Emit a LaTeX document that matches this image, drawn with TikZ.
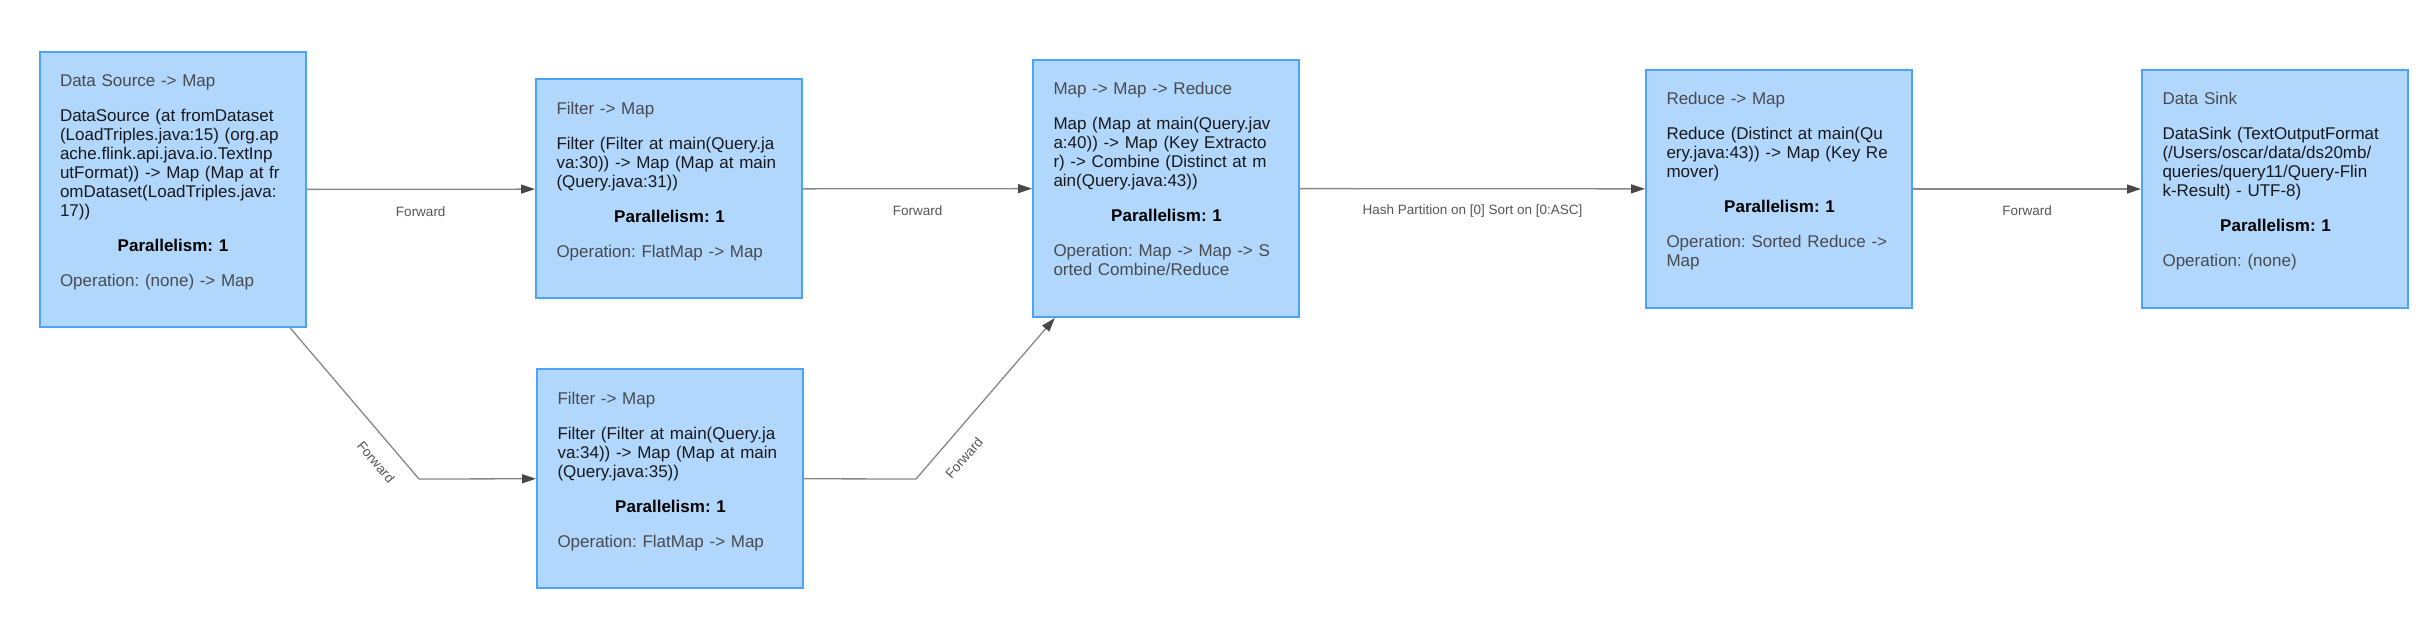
\documentclass[tikz,border=0pt]{standalone}
\usepackage{fontspec}
\setmainfont{Liberation Sans}
\frenchspacing
\usetikzlibrary{arrows.meta}
\definecolor{boxfill}{RGB}{177,216,252}
\definecolor{boxdraw}{RGB}{77,163,250}
\definecolor{titlec}{RGB}{72,74,80}
\definecolor{bodyc}{RGB}{24,24,28}
\definecolor{edgec}{RGB}{135,135,135}
\definecolor{tipc}{RGB}{72,72,72}
\definecolor{elabc}{RGB}{85,85,85}
\newcommand\bl[1]{\mbox{\strut#1}\par}
\tikzset{
  opbox/.style={draw=boxdraw, fill=boxfill, line width=2pt, outer sep=1pt,
    minimum width=266pt, inner sep=0pt},
  optext/.style={anchor=north west, inner sep=0pt, outer sep=0pt, text width=226pt,
    font=\fontsize{17}{19}\selectfont\frenchspacing, text=bodyc, xshift=21.5pt, yshift=-22.7pt},
  flow/.style={draw=edgec, line width=1.3pt,
    -{Triangle[length=14pt,width=9pt,color=tipc]}},
  elabel/.style={font=\fontsize{13.5}{16}\selectfont\frenchspacing, text=elabc, inner sep=0pt}
}
\begin{document}
\begin{tikzpicture}[x=1pt,y=-1pt]
\useasboundingbox (0,0) rectangle (2431,636);

% boxes
\node[opbox, minimum height=275pt] (b1) at (172.5,189.5) {};
\node[opbox, minimum height=219pt] (b2) at (669,189) {};
\node[opbox, minimum height=257pt] (b3) at (1166,188.5) {};
\node[opbox, minimum height=238pt] (b4) at (1779,189) {};
\node[opbox, minimum height=238pt] (b5) at (2275,189) {};
\node[opbox, minimum height=219pt] (b6) at (670,478.5) {};

% texts
\node[optext] (t1) at (b1.north west) {\raggedright
  {\color{titlec}\bl{Data Source -> Map}}
  \vspace{16pt}
  \bl{DataSource (at fromDataset}
  \bl{(LoadTriples.java:15) (org.ap}
  \bl{ache.flink.api.java.io.TextInp}
  \bl{utFormat)) -> Map (Map at fr}
  \bl{omDataset(LoadTriples.java:}
  \bl{17))}
  \vspace{16pt}
  {\centering\bl{\bfseries\color{black}Parallelism: 1}}
  \vspace{16pt}
  {\color{titlec}\bl{Operation: (none) -> Map}}};

\node[optext] (t2) at (b2.north west) {\raggedright
  {\color{titlec}\bl{Filter -> Map}}
  \vspace{16pt}
  \bl{Filter (Filter at main(Query.ja}
  \bl{va:30)) -> Map (Map at main}
  \bl{(Query.java:31))}
  \vspace{16pt}
  {\centering\bl{\bfseries\color{black}Parallelism: 1}}
  \vspace{16pt}
  {\color{titlec}\bl{Operation: FlatMap -> Map}}};

\node[optext] (t3) at (b3.north west) {\raggedright
  {\color{titlec}\bl{Map -> Map -> Reduce}}
  \vspace{16pt}
  \bl{Map (Map at main(Query.jav}
  \bl{a:40)) -> Map (Key Extracto}
  \bl{r) -> Combine (Distinct at m}
  \bl{ain(Query.java:43))}
  \vspace{16pt}
  {\centering\bl{\bfseries\color{black}Parallelism: 1}}
  \vspace{16pt}
  {\color{titlec}\bl{Operation: Map -> Map -> S}\bl{orted Combine/Reduce}}};

\node[optext] (t4) at (b4.north west) {\raggedright
  {\color{titlec}\bl{Reduce -> Map}}
  \vspace{16pt}
  \bl{Reduce (Distinct at main(Qu}
  \bl{ery.java:43)) -> Map (Key Re}
  \bl{mover)}
  \vspace{16pt}
  {\centering\bl{\bfseries\color{black}Parallelism: 1}}
  \vspace{16pt}
  {\color{titlec}\bl{Operation: Sorted Reduce ->}\bl{Map}}};

\node[optext] (t5) at (b5.north west) {\raggedright
  {\color{titlec}\bl{Data Sink}}
  \vspace{16pt}
  \bl{DataSink (TextOutputFormat}
  \bl{(/Users/oscar/data/ds20mb/}
  \bl{queries/query11/Query-Flin}
  \bl{k-Result) - UTF-8)}
  \vspace{16pt}
  {\centering\bl{\bfseries\color{black}Parallelism: 1}}
  \vspace{16pt}
  {\color{titlec}\bl{Operation: (none)}}};

\node[optext] (t6) at (b6.north west) {\raggedright
  {\color{titlec}\bl{Filter -> Map}}
  \vspace{16pt}
  \bl{Filter (Filter at main(Query.ja}
  \bl{va:34)) -> Map (Map at main}
  \bl{(Query.java:35))}
  \vspace{16pt}
  {\centering\bl{\bfseries\color{black}Parallelism: 1}}
  \vspace{16pt}
  {\color{titlec}\bl{Operation: FlatMap -> Map}}};

% connectors
\draw[flow] (b1) -- (b2) node[elabel, midway, yshift=-22pt] (l12) {Forward};
\draw[flow] (b2) -- (b3) node[elabel, midway, yshift=-22pt] (l23) {Forward};
\draw[flow] (b3) -- (b4) node[elabel, midway, yshift=-22pt] (l34) {Hash Partition on [0] Sort on [0:ASC]};
\draw[flow] (b4) -- (b5) node[elabel, midway, yshift=-22pt] (l45) {Forward};

\coordinate (k1) at (419,479);
\coordinate (k2) at (916,479);
\draw[flow] (b1) -- (k1) -- (b6);
\draw[flow] (b6) -- (k2) -- (b3);
\node[elabel, rotate=-49.5] (l16) at (376,462) {Forward};
\node[elabel, rotate=49.3] (l63) at (964,458) {Forward};
\end{tikzpicture}
\end{document}
